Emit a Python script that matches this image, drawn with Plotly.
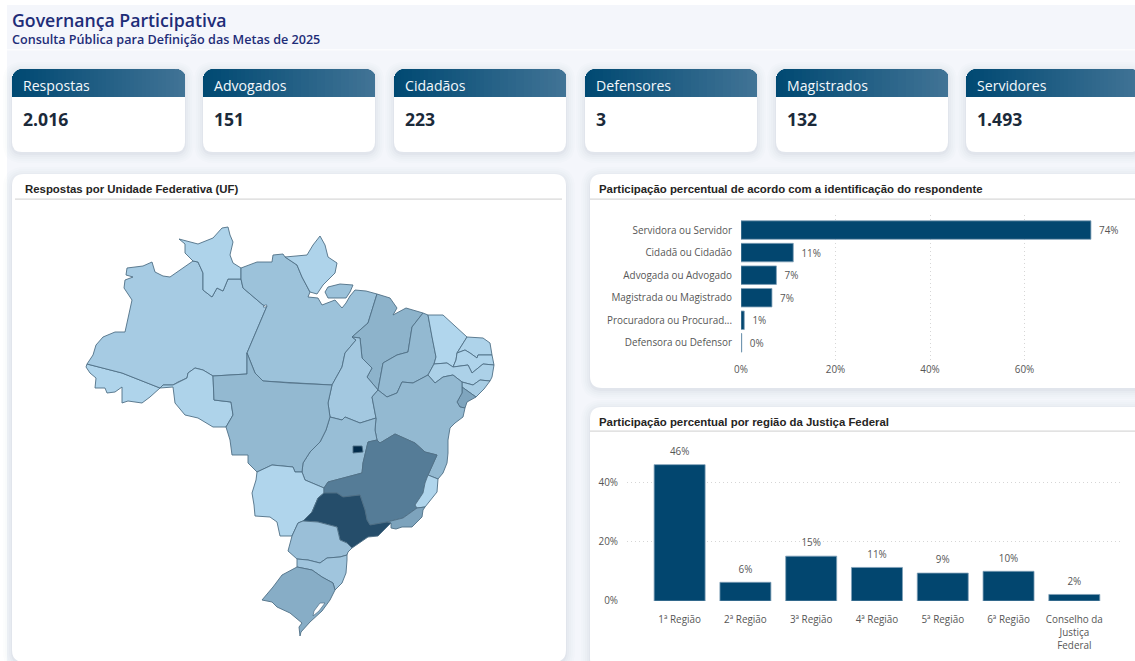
import plotly.graph_objects as go

W, H = 1135, 661

# ---- data ----
HEADER_TITLE = "Governança Participativa"
HEADER_SUB = "Consulta Pública para Definição das Metas de 2025"

CARD_LABELS = ["Respostas", "Advogados", "Cidadãos", "Defensores", "Magistrados", "Servidores"]
CARD_VALUES = ["2.016", "151", "223", "3", "132", "1.493"]

ROLE_LABELS = ["Servidora ou Servidor", "Cidadã ou Cidadão", "Advogada ou Advogado",
               "Magistrada ou Magistrado", "Procuradora ou Procurad...", "Defensora ou Defensor"]
ROLE_SHARE = [74.06, 11.06, 7.49, 6.55, 0.69, 0.15]
ROLE_TICKS = [0, 20, 40, 60]
ROLE_TICK_TEXT = ["0%", "20%", "40%", "60%"]

REGION_LABELS = ["1ª Região", "2ª Região", "3ª Região", "4ª Região", "5ª Região", "6ª Região",
                 "Conselho da<br>Justiça<br>Federal"]
REGION_SHARE = [45.9, 6.3, 15.1, 11.3, 9.4, 10.0, 2.2]
REGION_TICKS = [0, 20, 40]
REGION_TICK_TEXT = ["0%", "20%", "40%"]

UF_RESPONSES = {
    "AC": 9, "AM": 30, "RR": 12, "RO": 12, "AP": 12, "PA": 53, "MA": 88, "TO": 37, "PI": 74,
    "CE": 5, "RN": 12, "PB": 9, "PE": 17, "AL": 26, "SE": 120, "BA": 74, "MT": 74, "GO": 62,
    "DF": 409, "MS": 7, "MG": 217, "ES": 7, "RJ": 125, "SP": 328, "PR": 58, "SC": 44, "RS": 102,
}


def r(a):
    return a[::-1]


# Base-map geometry: shared borders (traced map units), assembled into states below.
AC_AM = [(87, 364), (122, 373), (160, 388)]
AM_RO = [(213, 376), (203, 370), (195, 368), (188, 373), (187, 378), (178, 382), (173, 385), (163, 385), (160, 388)]
AM_RR = [(193, 261), (198, 262), (203, 273), (203, 290), (212, 297), (217, 288), (223, 291), (228, 279), (241, 279)]
AM_PA = [(241, 279), (243, 288), (263, 305), (267, 306), (247, 353)]
AM_MT = [(247, 353), (247, 374), (213, 376)]
RO_MT = [(213, 376), (214, 400), (231, 402), (233, 415), (226, 427)]
PA_RR = [(241, 279), (241, 268)]
PA_AP = [(285, 257), (297, 265), (302, 277), (310, 292)]
PA_MA = [(377, 294), (368, 323), (352, 337)]
PA_TO = [(352, 337), (356, 340), (345, 353), (342, 367), (332, 385)]
PA_MT = [(332, 385), (290, 383), (263, 381), (255, 373), (250, 360), (247, 353)]
MA_PI = [(423, 313), (412, 327), (408, 352), (397, 355), (383, 363), (378, 390)]
MA_TO = [(378, 390), (367, 377), (372, 368), (362, 358), (360, 338), (352, 337)]
TO_BA = [(378, 390), (372, 397), (376, 418)]
TO_GO = [(376, 418), (360, 423), (353, 420), (345, 417), (342, 420), (330, 417)]
TO_MT = [(330, 417), (328, 403), (332, 385)]
PI_CE = [(428, 315), (432, 337), (436, 357), (434, 364)]
PI_PE = [(434, 364), (428, 375)]
PI_BA = [(428, 375), (413, 383), (402, 382), (397, 393), (387, 397), (378, 390)]
CE_PE = [(434, 364), (447, 363), (453, 367)]
CE_PB = [(453, 367), (456, 360), (457, 353)]
CE_RN = [(457, 353), (467, 337)]
RN_PB = [(457, 353), (465, 350), (470, 353), (477, 358), (478, 355), (492, 355)]
PB_PE = [(453, 367), (468, 365), (472, 373), (483, 364), (494, 365)]
PE_AL = [(490, 381), (480, 380), (473, 385), (462, 382)]
PE_BA = [(462, 382), (453, 375), (443, 377), (435, 383), (428, 375)]
AL_SE = [(476, 397), (462, 387)]
AL_BA = [(462, 387), (462, 382)]
SE_BA = [(462, 387), (462, 393), (457, 402), (460, 407), (465, 408)]
BA_ES = [(438, 479), (428, 475)]
BA_MG = [(428, 475), (437, 455), (425, 452), (415, 443), (395, 434), (380, 443), (377, 440)]
BA_GO = [(377, 440), (375, 430), (376, 418)]
GO_MG = [(377, 440), (368, 442), (363, 463), (362, 473), (347, 477), (328, 482), (324, 488)]
GO_MS = [(324, 488), (305, 480), (302, 472)]
GO_MT = [(302, 472), (303, 463), (310, 452), (320, 442), (326, 430), (330, 417)]
MT_MS = [(302, 472), (295, 472), (293, 467), (272, 465), (257, 472)]
MS_SP = [(324, 493), (318, 498), (312, 512), (303, 521)]
MS_PR = [(303, 521), (298, 523), (292, 536)]
SP_MG = [(324, 493), (337, 493), (343, 497), (360, 495), (365, 510), (367, 520), (370, 525), (387, 522)]
MG_ES = [(428, 475), (425, 483), (423, 493), (415, 505), (417, 508)]
MG_RJ = [(417, 508), (403, 518), (387, 522)]
SP_RJ = [(387, 522), (391, 523)]
SP_PR = [(352, 548), (347, 543), (340, 540), (337, 527), (318, 522), (303, 521)]
PR_SC = [(347, 555), (340, 557), (327, 558), (320, 563), (308, 560), (297, 559)]
SC_RS = [(335, 590), (333, 583), (322, 577), (312, 570), (297, 567)]

UF_RINGS = {
    "AC": [AC_AM + [(150, 397), (142, 403), (128, 401), (122, 403), (122, 387), (115, 392), (107, 393),
                    (105, 388), (95, 388), (96, 378), (90, 373), (86, 367)]],
    "AM": [[(87, 364), (93, 355), (96, 345), (103, 337), (115, 332), (125, 332), (132, 300), (124, 288),
            (125, 280), (133, 277), (126, 275), (127, 268), (143, 266), (152, 262), (155, 272), (163, 276),
            (170, 277), (183, 268)] + AM_RR[:-1] + AM_PA[:-1] + AM_MT[:-1] + AM_RO[:-1] + r(AC_AM)],
    "RO": [AM_RO + [(173, 387), (175, 403), (185, 415), (198, 418), (213, 427)] + r(RO_MT)],
    "RR": [[(193, 261), (185, 253), (185, 244), (179, 239), (198, 244), (213, 238), (222, 228), (228, 227),
            (230, 235), (233, 242), (230, 255), (233, 263)] + r(PA_RR) + r(AM_RR)],
    "PA": [[(241, 268), (257, 262), (272, 262), (273, 255), (283, 254)] + PA_AP +
           [(308, 297), (318, 298), (322, 305), (335, 300), (342, 308), (346, 303), (350, 296), (355, 290),
            (366, 291)] + PA_MA[:-1] + PA_TO[:-1] + PA_MT[:-1] + r(AM_PA),
           [(328, 287), (340, 284), (353, 285), (350, 292), (346, 298), (328, 298), (325, 292)]],
    "AP": [[(285, 257), (307, 255), (313, 245), (320, 236), (325, 245), (328, 257), (337, 263), (335, 273),
            (323, 285), (317, 294)] + r(PA_AP)],
    "MA": [[(377, 294), (390, 298), (397, 308), (393, 315), (406, 308)] + MA_PI[:-1] + MA_TO[:-1] + r(PA_MA)],
    "TO": [r(MA_TO) + TO_BA[1:] + TO_GO[1:] + TO_MT[1:] + r(PA_TO)[1:]],
    "PI": [r(MA_PI) + PI_CE + PI_PE[1:] + PI_BA[1:]],
    "CE": [[(428, 315), (443, 315), (455, 326)] + r(CE_RN) + r(CE_PB)[1:] + r(CE_PE)[1:] + r(PI_CE)[1:]],
    "RN": [[(467, 337), (483, 338), (490, 343)] + r(RN_PB) + CE_RN[1:]],
    "PB": [RN_PB + r(PB_PE) + CE_PB[1:]],
    "PE": [PB_PE + [(492, 377)] + PE_AL + PE_BA[1:] + r(PI_PE)[1:] + CE_PE[1:]],
    "AL": [r(PE_AL) + [(484, 389)] + AL_SE + AL_BA[1:]],
    "SE": [r(AL_SE) + [(467, 402)] + r(SE_BA)],
    "BA": [r(PI_BA) + r(PE_BA)[1:] + r(AL_BA)[1:] + SE_BA[1:] +
           [(463, 417), (455, 423), (450, 428), (448, 440), (448, 453), (447, 463), (443, 473)] +
           BA_ES + BA_MG[1:] + BA_GO[1:] + r(TO_BA)[1:]],
    "GO": [r(TO_GO) + r(BA_GO)[1:] + GO_MG[1:] + GO_MS[1:] + GO_MT[1:]],
    "DF": [[(353, 446), (362, 446), (363, 452), (353, 453)]],
    "MT": [r(AM_MT) + r(PA_MT)[1:] + r(TO_MT)[1:] + r(GO_MT)[1:] + MT_MS[1:] +
           [(248, 463), (248, 455), (240, 455), (232, 455), (230, 440)] + r(RO_MT)],
    "MS": [r(MT_MS) + r(GO_MS)[1:] + MS_SP + MS_PR[1:] +
           [(280, 536), (277, 522), (270, 517), (255, 516), (254, 505), (252, 493), (256, 480)]],
    "MG": [r(GO_MG) + r(BA_MG)[1:] + MG_ES[1:] + MG_RJ[1:] + r(SP_MG)[1:]],
    "ES": [r(BA_ES) + [(437, 492), (425, 507)] + r(MG_ES)],
    "RJ": [[(417, 508), (425, 507), (423, 510), (422, 517), (412, 527), (402, 527), (396, 529), (391, 528)] +
           r(SP_RJ) + r(MG_RJ)[1:]],
    "SP": [SP_MG + SP_RJ[1:] + [(382, 532), (378, 536), (368, 537)] + SP_PR + r(MS_SP)[1:]],
    "PR": [r(SP_PR) + [(348, 552)] + PR_SC + [(288, 551)] + r(MS_PR)],
    "SC": [r(PR_SC) + [(347, 560), (346, 573), (342, 583)] + SC_RS],
    "RS": [r(SC_RS) + [(330, 600), (322, 611), (310, 622), (301, 632), (300, 636), (299, 627), (302, 623),
                       (290, 613), (277, 607), (272, 602), (262, 600), (273, 587), (282, 575)]],
}
WATER = [
    [(325, 603), (320, 603), (314, 611), (313, 616), (319, 611)],
    [(263, 307), (265, 305), (267, 305), (266, 307)],
]

# ---- style ----
PAGE = "#F4F6FB"
NAVY = "#02466F"
TXT = "#565656"
FONT = "Open Sans, Noto Sans, sans-serif"
TITLE_FONT = "Liberation Sans, Arial, sans-serif"
MAP_LO = (0xB3, 0xD8, 0xEF)
MAP_HI = (0x00, 0x29, 0x48)
TICK_FONT = dict(size=9.9, color=TXT, family=FONT)


def px(x):
    return x / W


def py(y):
    return 1 - y / H


def rr_path(x0, y0, x1, y1, rad):
    return (f"M{px(x0 + rad)},{py(y0)} L{px(x1 - rad)},{py(y0)} Q{px(x1)},{py(y0)} {px(x1)},{py(y0 + rad)} "
            f"L{px(x1)},{py(y1 - rad)} Q{px(x1)},{py(y1)} {px(x1 - rad)},{py(y1)} "
            f"L{px(x0 + rad)},{py(y1)} Q{px(x0)},{py(y1)} {px(x0)},{py(y1 - rad)} "
            f"L{px(x0)},{py(y0 + rad)} Q{px(x0)},{py(y0)} {px(x0 + rad)},{py(y0)} Z")


shapes = []
annotations = []


def add_shape(path, fill):
    shapes.append(dict(type="path", path=path, xref="paper", yref="paper", fillcolor=fill,
                       line=dict(width=0), layer="below"))


def add_rect(x0, y0, x1, y1, fill):
    shapes.append(dict(type="rect", x0=px(x0), x1=px(x1), y0=py(y1), y1=py(y0), xref="paper", yref="paper",
                       fillcolor=fill, line=dict(width=0), layer="below"))


def panel(x0, y0, x1, y1, rad, shadow=True):
    if shadow:
        for s, a in ((9, .010), (7, .012), (5, .016), (3, .020), (1, .026)):
            add_shape(rr_path(x0 - s, y0 - s + 2, x1 + s, y1 + s + 2, rad + s), f"rgba(40,50,90,{a})")
    add_shape(rr_path(x0, y0, x1, y1, rad), "#FFFFFF")


def label(x, y, text, size, color, family=FONT, bold=False, anchor="left", weight=None):
    font = dict(size=size, color=color, family=family)
    if weight:
        font["weight"] = weight
    annotations.append(dict(x=px(x), y=py(y), xref="paper", yref="paper", xanchor=anchor, yanchor="middle",
                            showarrow=False, text=f"<b>{text}</b>" if bold else text, font=font))


def lerp(a, b, t):
    return tuple(round(a[i] + (b[i] - a[i]) * t) for i in range(3))


# page and header band
add_rect(7, 5, W, H, PAGE)
add_rect(7, 49, W, 50.5, "#FBFCFE")
label(10, 20, HEADER_TITLE, 17.7, "#1E2D78", FONT, weight=600)
label(10, 39, HEADER_SUB, 12.6, "#1E2D78", FONT, weight=600)

# KPI cards
CARD_X = [(12, 185), (203, 375), (394, 566), (585, 757), (776, 948), (966, 1140)]
CARD_TOP, CARD_HEAD, CARD_BOT, CARD_R = 69, 97, 152, 10
for (x0, x1), name, val in zip(CARD_X, CARD_LABELS, CARD_VALUES):
    panel(x0, CARD_TOP, x1, CARD_BOT, CARD_R)
    x = x0
    while x < x1:
        step = 1 if (x < x0 + CARD_R or x >= x1 - CARD_R) else 4
        t = (x - x0) / (x1 - x0)
        col = "rgb(%d,%d,%d)" % lerp((0x00, 0x49, 0x72), (0x42, 0x74, 0x96), t)
        d = min(x - x0 + step / 2, x1 - x - step / 2, CARD_R)
        top = CARD_TOP + CARD_R - (CARD_R ** 2 - (CARD_R - d) ** 2) ** 0.5
        add_rect(x, top, min(x + step + 1, x1), CARD_HEAD, col)
        x += step
    label(x0 + 8.5, 86, name, 14.1, "#F4F8FB")
    label(x0 + 8.5, 119, val, 17.6, "#1B2A3A", FONT, True)

# chart panels
panel(12, 174, 566, 662, 12)
panel(590, 174, 1145, 388, 12)
panel(590, 407, 1145, 670, 12)
for x0, x1, y in ((15, 562, 199), (590, W, 199), (590, W, 431)):
    add_rect(x0, y - .5, x1, y + .7, "#D8D8D8")
label(23, 188.5, "Respostas por Unidade Federativa (UF)", 11.4, "#252423", TITLE_FONT, True)
label(596.5, 188.5, "Participação percentual de acordo com a identificação do respondente", 11.4, "#252423", TITLE_FONT, True)
label(596.5, 421.5, "Participação percentual por região da Justiça Federal", 11.4, "#252423", TITLE_FONT, True)

fig = go.Figure()

# choropleth drawn as filled outlines on the hidden map axes
vmax = max(UF_RESPONSES.values()) * 1.01
for uf, rings in UF_RINGS.items():
    col = "rgb(%d,%d,%d)" % lerp(MAP_LO, MAP_HI, UF_RESPONSES[uf] / vmax)
    xs, ys = [], []
    for ring in rings:
        xs += [p[0] for p in ring] + [ring[0][0], None]
        ys += [p[1] for p in ring] + [ring[0][1], None]
    fig.add_trace(go.Scatter(x=xs, y=ys, xaxis="x3", yaxis="y3", mode="lines", fill="toself", fillcolor=col,
                             line=dict(color="#4F6F86", width=0.9), name=uf, showlegend=False,
                             hoveron="fills", text=f"{uf}: {UF_RESPONSES[uf]}", hoverinfo="text"))
for ring in WATER:
    fig.add_trace(go.Scatter(x=[p[0] for p in ring] + [ring[0][0]], y=[p[1] for p in ring] + [ring[0][1]],
                             xaxis="x3", yaxis="y3", mode="lines", fill="toself", fillcolor="#FFFFFF",
                             line=dict(color="#4F6F86", width=0.7), showlegend=False, hoverinfo="skip"))

BAR_LINE = dict(color="#7FA0B8", width=0.8)
fig.add_trace(go.Bar(x=ROLE_SHARE, y=ROLE_LABELS, orientation="h", xaxis="x", yaxis="y", width=0.82,
                     marker=dict(color=NAVY, line=BAR_LINE), texttemplate="  %{x:.0f}%", textposition="outside",
                     textfont=TICK_FONT, cliponaxis=False, showlegend=False))
fig.add_trace(go.Bar(x=REGION_LABELS, y=REGION_SHARE, xaxis="x2", yaxis="y2", width=0.775,
                     marker=dict(color=NAVY, line=BAR_LINE), showlegend=False))
# value labels float above the bars; the invisible marker sets their gap
fig.add_trace(go.Scatter(x=REGION_LABELS, y=REGION_SHARE, xaxis="x2", yaxis="y2", mode="markers+text",
                         marker=dict(size=10, opacity=0), texttemplate="%{y:.0f}%", textposition="top center",
                         textfont=TICK_FONT, cliponaxis=False, showlegend=False, hoverinfo="skip"))

GRID = dict(showgrid=True, gridcolor="#D6D6D6", griddash="1px,3px", gridwidth=1, zeroline=False, showline=False,
            ticks="", tickfont=TICK_FONT, fixedrange=True, automargin=False)
PLAIN = dict(showgrid=False, zeroline=False, showline=False, ticks="", tickfont=TICK_FONT, fixedrange=True,
             automargin=False)
fig.update_layout(
    width=W, height=H, margin=dict(l=0, r=0, t=0, b=0, pad=0, autoexpand=False), paper_bgcolor="#FFFFFF",
    plot_bgcolor="rgba(0,0,0,0)", shapes=shapes, annotations=annotations, showlegend=False,
    xaxis=dict(domain=[px(741), px(1125)], range=[0, 384 / 4.725], tickvals=ROLE_TICKS, ticktext=ROLE_TICK_TEXT,
               anchor="y", **GRID),
    yaxis=dict(domain=[py(362), py(215)], range=[5.85, -0.667], type="category", anchor="x",
               ticklabelstandoff=8, **PLAIN),
    xaxis2=dict(domain=[px(627), px(1123)], range=[-0.8, 6.74], type="category", anchor="y2",
                ticklabelstandoff=11, **PLAIN),
    yaxis2=dict(domain=[py(601), py(440)], range=[0, 54.2], tickvals=REGION_TICKS, ticktext=REGION_TICK_TEXT,
                anchor="x2", ticklabelstandoff=8, **GRID),
    xaxis3=dict(domain=[px(16), px(562)], range=[16, 562], visible=False, anchor="y3", fixedrange=True),
    yaxis3=dict(domain=[py(655), py(205)], range=[655, 205], visible=False, anchor="x3", fixedrange=True),
)

fig.write_html("out.html", config=dict(displayModeBar=False),
               post_script="document.body.style.margin='0';document.body.style.overflow='hidden';")
